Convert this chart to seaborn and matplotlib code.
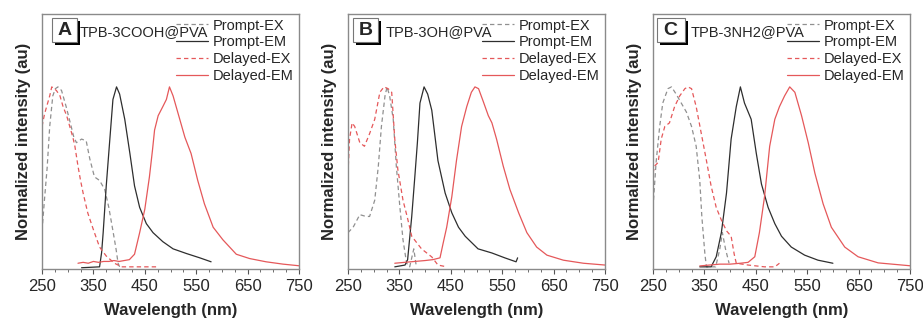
import matplotlib
matplotlib.use("Agg")
import matplotlib.pyplot as plt
from matplotlib.patches import Rectangle
from matplotlib.ticker import MultipleLocator
import seaborn as sns
import pandas as pd

# ---- Panel A: TPB-3COOH@PVA ----
a_pex_x = [250, 255, 260, 265, 271, 276, 281, 288, 297, 305, 312, 317, 327, 336, 343, 352, 362, 372, 380, 388, 394, 398, 401]
a_pex_y = [0.20, 0.38, 0.55, 0.78, 0.95, 0.99, 1.00, 0.98, 0.89, 0.80, 0.72, 0.69, 0.71, 0.70, 0.60, 0.50, 0.48, 0.43, 0.33, 0.20, 0.10, 0.02, 0.00]
a_pem_x = [327, 362, 366, 369, 375, 382, 388, 395, 401, 411, 421, 430, 440, 453, 466, 485, 505, 531, 557, 579]
a_pem_y = [-0.005, 0.0, 0.08, 0.19, 0.45, 0.71, 0.93, 1.00, 0.96, 0.82, 0.63, 0.45, 0.33, 0.24, 0.19, 0.14, 0.10, 0.074, 0.05, 0.028]
a_dex_x = [250, 255, 260, 265, 269, 278, 285, 291, 298, 304, 310, 314, 320, 325, 330, 339, 346, 352, 362, 375, 391, 405, 476]
a_dex_y = [0.78, 0.85, 0.90, 0.95, 1.00, 0.98, 0.95, 0.89, 0.84, 0.78, 0.72, 0.67, 0.56, 0.48, 0.41, 0.30, 0.24, 0.19, 0.11, 0.06, 0.02, 0.0, 0.0]
a_dem_x = [320, 330, 340, 350, 360, 370, 380, 390, 400, 410, 420, 430, 440, 450, 459, 465, 469, 476, 485, 492, 498, 505, 518, 528, 540, 553, 566, 583, 602, 628, 654, 686, 719, 750]
a_dem_y = [0.02, 0.025, 0.02, 0.03, 0.025, 0.03, 0.03, 0.035, 0.03, 0.035, 0.04, 0.07, 0.19, 0.32, 0.50, 0.65, 0.76, 0.84, 0.89, 0.93, 1.00, 0.95, 0.82, 0.72, 0.63, 0.48, 0.35, 0.22, 0.15, 0.07, 0.046, 0.028, 0.015, 0.006]

# ---- Panel B: TPB-3OH@PVA ----
b_pex_x = [250, 260, 273, 285, 292, 302, 309, 315, 322, 326, 331, 338, 344, 351, 357, 364, 370, 378, 383]
b_pex_y = [0.19, 0.22, 0.29, 0.28, 0.28, 0.37, 0.56, 0.78, 0.95, 1.00, 0.95, 0.82, 0.56, 0.33, 0.15, 0.02, 0.0, 0.10, 0.0]
b_pem_x = [341, 361, 366, 374, 380, 385, 390, 398, 405, 413, 425, 439, 452, 465, 478, 503, 530, 555, 577, 580]
b_pem_y = [0.0, 0.01, 0.04, 0.28, 0.50, 0.69, 0.91, 1.00, 0.96, 0.87, 0.59, 0.41, 0.30, 0.22, 0.17, 0.10, 0.077, 0.05, 0.028, 0.05]
b_dex_x = [250, 253, 258, 263, 273, 282, 292, 302, 312, 320, 328, 335, 341, 347, 357, 365, 374, 393, 413, 425, 442]
b_dex_y = [0.52, 0.71, 0.80, 0.78, 0.69, 0.67, 0.74, 0.82, 0.97, 1.00, 0.99, 0.97, 0.71, 0.54, 0.37, 0.28, 0.17, 0.10, 0.055, 0.01, 0.0]
b_dem_x = [341, 360, 380, 400, 415, 429, 435, 442, 452, 461, 471, 481, 490, 497, 504, 513, 523, 530, 539, 552, 565, 582, 598, 617, 637, 669, 708, 750]
b_dem_y = [0.02, 0.025, 0.03, 0.035, 0.04, 0.05, 0.13, 0.22, 0.39, 0.59, 0.78, 0.89, 0.97, 1.00, 0.99, 0.92, 0.84, 0.80, 0.71, 0.56, 0.43, 0.30, 0.19, 0.11, 0.065, 0.037, 0.02, 0.01]

# ---- Panel C: TPB-3NH2@PVA ----
c_pex_x = [250, 256, 263, 269, 279, 286, 295, 305, 315, 325, 334, 341, 345, 351, 354, 372, 380, 385, 391, 398]
c_pex_y = [0.33, 0.58, 0.78, 0.91, 0.99, 1.00, 0.96, 0.91, 0.86, 0.78, 0.67, 0.48, 0.28, 0.07, 0.0, 0.0, 0.10, 0.19, 0.10, 0.02]
c_pem_x = [341, 363, 373, 383, 393, 402, 412, 420, 428, 441, 451, 461, 474, 487, 500, 519, 545, 571, 600]
c_pem_y = [0.0, 0.0, 0.056, 0.19, 0.41, 0.71, 0.89, 1.00, 0.91, 0.82, 0.63, 0.46, 0.33, 0.24, 0.17, 0.11, 0.065, 0.037, 0.02]
c_dex_x = [250, 253, 260, 266, 273, 282, 292, 302, 312, 318, 325, 334, 344, 354, 363, 373, 383, 393, 402, 408, 412, 435, 467, 487, 496]
c_dex_y = [0.52, 0.56, 0.58, 0.71, 0.78, 0.80, 0.89, 0.95, 0.99, 1.00, 0.99, 0.89, 0.74, 0.59, 0.45, 0.33, 0.26, 0.20, 0.17, 0.07, 0.02, 0.01, 0.0, 0.0, 0.02]
c_dem_x = [341, 360, 380, 400, 420, 435, 448, 457, 467, 477, 487, 496, 506, 516, 526, 539, 552, 565, 581, 597, 623, 649, 688, 750]
c_dem_y = [0.005, 0.01, 0.015, 0.015, 0.02, 0.025, 0.056, 0.19, 0.39, 0.67, 0.82, 0.89, 0.95, 1.00, 0.97, 0.84, 0.69, 0.52, 0.35, 0.22, 0.11, 0.056, 0.022, 0.006]

panel_letters = ["A", "B", "C"]
sample_names = ["TPB-3COOH@PVA", "TPB-3OH@PVA", "TPB-3NH2@PVA"]
series_names = ["Prompt-EX", "Prompt-EM", "Delayed-EX", "Delayed-EM"]
xticks = [250, 350, 450, 550, 650, 750]

panels = [
    [(a_pex_x, a_pex_y), (a_pem_x, a_pem_y), (a_dex_x, a_dex_y), (a_dem_x, a_dem_y)],
    [(b_pex_x, b_pex_y), (b_pem_x, b_pem_y), (b_dex_x, b_dex_y), (b_dem_x, b_dem_y)],
    [(c_pex_x, c_pex_y), (c_pem_x, c_pem_y), (c_dex_x, c_dex_y), (c_dem_x, c_dem_y)],
]

sns.set_theme(style="white")
plt.rcParams["font.family"] = ["Liberation Sans", "DejaVu Sans"]

styles = {
    "Prompt-EX": dict(color="#909090", ls=(0, (3.5, 2.5))),
    "Prompt-EM": dict(color="#2e2e2e", ls="-"),
    "Delayed-EX": dict(color="#e5585a", ls=(0, (3.5, 2.5))),
    "Delayed-EM": dict(color="#e5585a", ls="-"),
}

fig = plt.figure(figsize=(9.23, 3.22), dpi=100)
lefts = [42 / 923, 348 / 923, 653 / 923]
box_x = [0.037, 0.020, 0.015]
box_w = [0.098, 0.095, 0.108]
for i in range(3):
    ax = fig.add_axes([lefts[i], 53 / 322, 257 / 923, 255 / 322])
    for name, (xs, ys) in zip(series_names, panels[i]):
        df = pd.DataFrame({"wl": xs, "val": ys})
        st = styles[name]
        sns.lineplot(data=df, x="wl", y="val", ax=ax, color=st["color"],
                     linestyle=st["ls"], linewidth=0.9, label=name,
                     sort=False, estimator=None)
    ax.set_xlim(250, 750)
    ax.set_ylim(-0.012, 1.405)
    ax.set_xticks(xticks)
    ax.xaxis.set_minor_locator(MultipleLocator(25))
    ax.set_yticks([])
    ax.tick_params(axis="x", which="major", direction="out", length=3.5,
                   width=0.8, color="#555555", labelsize=12, pad=4, bottom=True)
    ax.tick_params(axis="x", which="minor", direction="out", length=2,
                   width=0.6, color="#555555", bottom=True)
    for sp in ax.spines.values():
        sp.set_color("#8a8a8a")
        sp.set_linewidth(1.0)
    ax.set_xlabel("Wavelength (nm)", fontsize=12, fontweight="bold", labelpad=6)
    ax.set_ylabel("Normalized intensity (au)", fontsize=12, fontweight="bold", labelpad=8)
    leg = ax.legend(loc="upper right", bbox_to_anchor=(1.0, 1.005), frameon=False,
                    fontsize=10.5, handlelength=2.2, handletextpad=0.3,
                    labelspacing=0.2, borderaxespad=0.2, borderpad=0.2)
    # panel letter box with drop shadow
    bx, bw = box_x[i], box_w[i]
    ax.add_patch(Rectangle((bx + 0.013, 0.878), bw, 0.094, transform=ax.transAxes,
                           facecolor="black", edgecolor="none", clip_on=False, zorder=5))
    ax.add_patch(Rectangle((bx, 0.890), bw, 0.094, transform=ax.transAxes,
                           facecolor="white", edgecolor="#777777", linewidth=0.8,
                           clip_on=False, zorder=6))
    ax.text(bx + bw / 2, 0.937, panel_letters[i], transform=ax.transAxes,
            ha="center", va="center", fontsize=14, fontweight="bold", zorder=7)
    ax.text(0.145, 0.928, sample_names[i], transform=ax.transAxes,
            ha="left", va="center", fontsize=10.5, zorder=7)

fig.savefig("out.png", dpi=100, facecolor="white")
